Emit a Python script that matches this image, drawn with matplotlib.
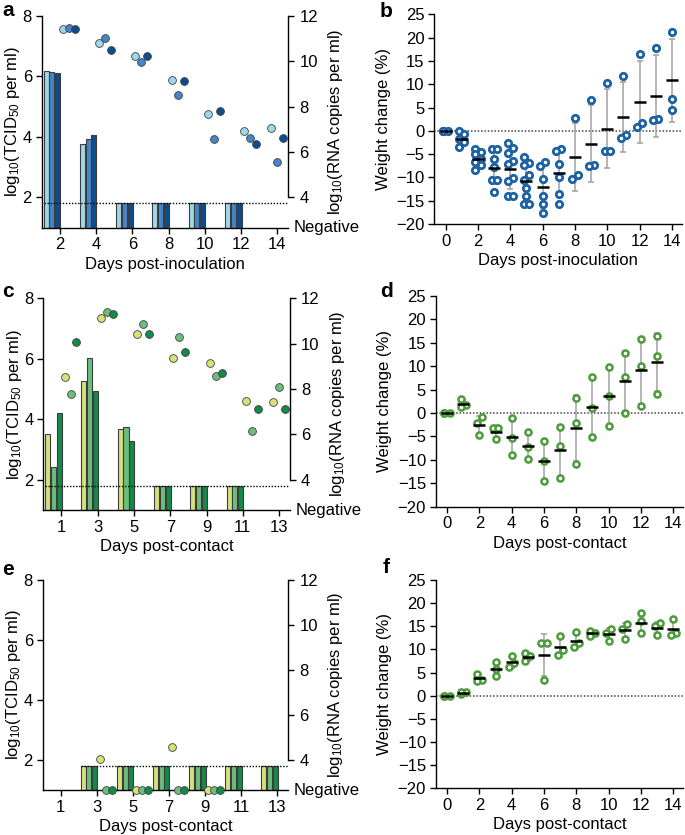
import matplotlib
matplotlib.use("Agg")
import matplotlib.pyplot as plt
import matplotlib.transforms as mtransforms
import numpy as np

plt.rcParams["font.family"] = ["Liberation Sans", "DejaVu Sans"]
plt.rcParams["mathtext.default"] = "regular"
plt.rcParams["font.size"] = 12
plt.rcParams["axes.linewidth"] = 1.0
for k in ("xtick", "ytick"):
    plt.rcParams[f"{k}.major.size"] = 4.5
    plt.rcParams[f"{k}.major.width"] = 1.0
    plt.rcParams[f"{k}.major.pad"] = 2.5
    plt.rcParams[f"{k}.labelsize"] = 12

# ---------------- data ----------------
LOD = 1.8      # detection limit, log10 TCID50 per ml
NEG = 0.0      # RNA not detected

# a: inoculated hamsters (3 animals), TCID50 bars + RNA dots
a_bar_days = [2, 4, 6, 8, 10, 12]
a_tcid = [[6.18, 3.77, 1.8, 1.8, 1.8, 1.8],
          [6.14, 3.93, 1.8, 1.8, 1.8, 1.8],
          [6.12, 4.05, 1.8, 1.8, 1.8, 1.8]]
a_rna_days = [2, 4, 6, 8, 10, 12, 14]
a_rna = [[11.40, 10.80, 10.23, 9.19, 7.66, 6.92, 7.05],
         [11.47, 11.04, 9.95, 8.52, 6.57, 6.62, 5.56],
         [11.41, 10.48, 10.22, 9.13, 7.79, 6.36, 6.60]]

# c: direct-contact hamsters
c_bar_days = [1, 3, 5, 7, 9, 11]
c_tcid = [[3.52, 5.27, 3.68, 1.8, 1.8, 1.8],
          [2.43, 6.02, 3.76, 1.8, 1.8, 1.8],
          [4.20, 4.94, 3.28, 1.8, 1.8, 1.8]]
c_rna_days = [1, 3, 5, 7, 9, 11, 13]
c_rna = [[8.54, 11.15, 10.41, 9.36, 9.13, 7.48, 7.45],
         [7.77, 11.38, 10.85, 10.28, 8.57, 6.14, 8.10],
         [10.06, 11.30, 10.44, 9.64, 8.70, 7.14, 7.14]]

# e: aerosol-contact hamsters
e_bar_days = [3, 5, 7, 9, 11, 13]
e_tcid = [[1.8, 1.8, 1.8, 1.8, 1.8, 1.8],
          [1.8, 1.8, 1.8, 1.8, 1.8, 1.8],
          [1.8, 1.8, 1.8, 1.8, 1.8, 1.8]]
e_rna_days = [3, 5, 7, 9]
e_rna = [[4.04, NEG, 4.60, NEG],
         [NEG, NEG, NEG, NEG],
         [NEG, NEG, NEG, NEG]]

# b: weight change, inoculated
b_days = list(range(15))
b_weight = [[0.0, 0.0, 0.0],
            [0.0, -0.7, -1.8, -2.5, -3.4],
            [-3.9, -4.6, -5.0, -6.0, -6.6, -7.3, -8.4],
            [-4.0, -4.0, -6.1, -7.7, -10.5, -10.5, -13.1],
            [-2.6, -3.6, -4.8, -6.5, -7.1, -10.2, -10.8, -14.0, -14.0],
            [-5.6, -6.9, -7.4, -9.5, -10.5, -12.2, -14.0, -15.7, -15.7],
            [-6.6, -7.5, -10.4, -13.9, -15.7, -17.7],
            [-3.8, -4.3, -7.2, -10.0, -13.6, -15.7],
            [2.7, -9.4, -10.4],
            [6.7, -7.4, -7.6],
            [10.2, -4.4, -4.4],
            [11.7, -1.0, -1.6],
            [16.4, 1.6, 0.8],
            [17.7, 2.5, 2.4],
            [21.1, 6.9, 4.5]]

# d: weight change, direct contact
d_days = list(range(14))
d_weight = [[0.0, 0.0, 0.0],
            [2.9, 1.8, 1.35],
            [-0.85, -2.1, -4.6],
            [-3.2, -3.2, -5.6],
            [-1.1, -5.3, -9.0],
            [-4.1, -7.2, -9.8],
            [-5.9, -10.3, -14.5],
            [-3.0, -7.05, -13.9],
            [3.2, -2.1, -10.8],
            [7.8, 1.1, -5.2],
            [9.8, 3.6, -2.7],
            [12.8, 7.6, 0.1],
            [15.8, 10.1, 1.5],
            [16.4, 12.2, 4.1]]

# f: weight change, aerosol contact
f_days = list(range(15))
f_weight = [[0.0, 0.0, 0.0],
            [0.3, 0.7, 0.9],
            [4.75, 3.45, 3.2],
            [7.2, 5.75, 4.25],
            [8.6, 7.05, 6.1],
            [9.2, 8.5, 7.4],
            [11.4, 11.4, 3.5],
            [13.0, 9.95, 8.85],
            [13.7, 11.4, 10.5],
            [14.0, 13.5, 12.9],
            [14.5, 13.6, 11.9],
            [15.5, 14.5, 12.3],
            [17.8, 16.1, 13.5],
            [15.75, 15.1, 13.2],
            [16.5, 13.6, 13.2]]

BLUES = ["#9fd7ea", "#4686c8", "#0d4d8c"]
GREENS = ["#d6e17c", "#6dbd7e", "#13894a"]
WEIGHT_BLUE = "#1c62a4"
WEIGHT_GREEN = "#4d9c3c"


def rna_scale(v):
    # right axis is tied to the left one: 2 -> 4, 8 -> 12
    return 4 + (v - 2) * 4 / 3


def titre_panel(ax, bar_days, tcid, rna_days, rna, colors, xlim, xticks, xlabel):
    ax.set_xlim(*xlim)
    ax.set_ylim(1, 8)
    offsets = (-0.76, -0.44, -0.12)
    for vals, col, off in zip(tcid, colors, offsets):
        ax.bar(np.asarray(bar_days) + off, vals, width=0.28, color=col,
               edgecolor="#3d3d3d", linewidth=0.8, zorder=2)
    x0 = bar_days[0] + offsets[0] - 0.14
    ax.plot([x0, xlim[1]], [LOD, LOD], color="black", ls=(0, (1, 1.2)),
            lw=1.0, zorder=3)
    ax.set_xticks(xticks)
    ax.set_yticks([2, 4, 6, 8])
    ax.set_xlabel(xlabel, labelpad=3)
    ax.set_ylabel("log$_{10}$(TCID$_{50}$ per ml)", labelpad=0.5)
    ax.spines[["top", "right"]].set_visible(False)

    ax2 = ax.twinx()
    bottom = rna_scale(1)
    ax2.set_ylim(bottom, 12)
    centres = np.array([d + 0.5 if d in bar_days else d for d in rna_days], float)
    for k, (vals, col) in enumerate(zip(rna, colors)):
        y = np.asarray(vals, float)
        y = np.where(y <= NEG, bottom, y)
        ax2.plot(centres + (k - 1) * 0.33, y, "o", ms=5.6, mfc=col,
                 mec="#404040", mew=0.6, clip_on=False, zorder=4)
    ax2.set_yticks([4, 6, 8, 10, 12])
    ax2.tick_params(axis="y", pad=3.5)
    ax2.spines[["top", "left", "bottom"]].set_visible(False)
    ax2.spines["right"].set_bounds(4, 12)
    ax2.set_ylabel("log$_{10}$(RNA copies per ml)", rotation=90, labelpad=6)
    tr = mtransforms.blended_transform_factory(ax2.transAxes, ax2.transData)
    ax2.text(1.022, bottom, "Negative", transform=tr, ha="left", va="center",
             fontsize=12, clip_on=False)


def spread(vals, half=0.16, gap=1.45):
    vals = np.asarray(vals, float)
    order = np.argsort(vals, kind="stable")
    offs = np.zeros(len(vals))
    groups = [[order[0]]]
    for i in order[1:]:
        if vals[i] - vals[groups[-1][-1]] < gap:
            groups[-1].append(i)
        else:
            groups.append([i])
    for g in groups:
        if len(g) > 1:
            for n, idx in enumerate(g):
                offs[idx] = -half if n % 2 == 0 else half
    return offs


def weight_panel(ax, days, weights, colour, xlabel, ms, mew):
    ax.set_xlim(-0.7, 14.6)
    ax.set_ylim(-20, 25)
    ax.axhline(0, color="#444444", ls=(0, (1, 1.2)), lw=1.1, zorder=1)
    for d, vals in zip(days, weights):
        v = np.asarray(vals, float)
        m, s = v.mean(), v.std(ddof=1)
        ax.errorbar(d, m, yerr=s, fmt="none", ecolor="#a0a0a0", elinewidth=1.1,
                    capsize=2, capthick=1.1, zorder=2)
        ax.plot(d + spread(v), v, "o", ms=ms, mfc="white", mec=colour,
                mew=mew, zorder=3, clip_on=False)
        ax.plot(d, m, "_", color="black", ms=8, mew=1.8, zorder=4)
    ax.set_xticks(range(0, 15, 2))
    ax.set_yticks(range(-20, 26, 5))
    ax.set_xlabel(xlabel, labelpad=3)
    ax.set_ylabel("Weight change (%)", labelpad=4)
    ax.spines[["top", "right"]].set_visible(False)


W, H = 685, 835
fig = plt.figure(figsize=(W / 100, H / 100), dpi=100)


def px_axes(left, right, top, bottom):
    return fig.add_axes([left / W, 1 - bottom / H, (right - left) / W, (bottom - top) / H])


ax_a = px_axes(41.7, 288.3, 15.7, 227.7)
ax_c = px_axes(43.3, 290.0, 298.3, 510.0)
ax_e = px_axes(42.7, 288.3, 580.0, 790.0)
ax_b = px_axes(434.3, 681.7, 14.3, 224.0)
ax_d = px_axes(435.7, 683.0, 296.0, 506.7)
ax_f = px_axes(435.7, 683.0, 580.0, 788.3)

titre_panel(ax_a, a_bar_days, a_tcid, a_rna_days, a_rna, BLUES,
            (1.0, 14.6), range(2, 15, 2), "Days post-inoculation")
titre_panel(ax_c, c_bar_days, c_tcid, c_rna_days, c_rna, GREENS,
            (0.0, 13.6), range(1, 14, 2), "Days post-contact")
titre_panel(ax_e, e_bar_days, e_tcid, e_rna_days, e_rna, GREENS,
            (0.0, 13.6), range(1, 14, 2), "Days post-contact")

weight_panel(ax_b, b_days, b_weight, WEIGHT_BLUE, "Days post-inoculation", 4.6, 2.0)
weight_panel(ax_d, d_days, d_weight, WEIGHT_GREEN, "Days post-contact", 4.4, 1.8)
weight_panel(ax_f, f_days, f_weight, WEIGHT_GREEN, "Days post-contact", 4.4, 1.8)

for letter, x, base in [("a", 2, 16), ("b", 380, 17), ("c", 2, 297),
                        ("d", 380, 297), ("e", 2, 575), ("f", 383, 573)]:
    fig.text(x / W, 1 - base / H, letter, fontsize=15, fontweight="bold",
             va="baseline", ha="left")

fig.savefig("out.png", dpi=100)
